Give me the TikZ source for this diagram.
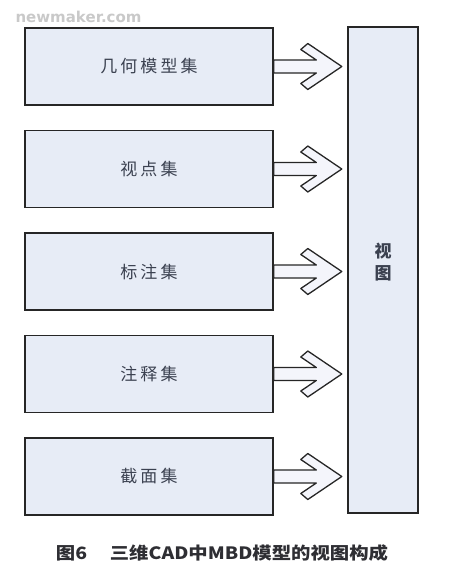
\documentclass[tikz,border=0pt]{standalone}
\usepackage{fontspec}
\setmainfont{Noto Sans CJK SC}
\newfontfamily\cjklabel[LetterSpace=18]{Noto Sans CJK SC}
\newfontfamily\wmfont{DejaVu Sans}
\definecolor{boxfill}{HTML}{E7ECF6}
\definecolor{arrowfill}{HTML}{F4F5FB}
\definecolor{labeltext}{HTML}{3B4150}
\definecolor{captext}{HTML}{2E2E33}
\definecolor{wmgray}{HTML}{C9C9C9}
\begin{document}
\begin{tikzpicture}[x=1pt,y=-1pt,
  setbox/.style={draw=black!85, line width=1.6pt, fill=boxfill, minimum width=248pt, minimum height=77pt, inner sep=0pt, text=labeltext, font=\cjklabel\fontsize{17}{17}\selectfont},
  viewbox/.style={draw=black!85, line width=1.6pt, fill=boxfill, minimum width=70pt, minimum height=486pt, inner sep=0pt},
  blockarrow/.style={draw=black!85, line width=1.3pt, fill=arrowfill, line join=round}]
\useasboundingbox (0,0) rectangle (472,587);
\node[font=\wmfont\bfseries\fontsize{15}{15}\selectfont, text=wmgray, anchor=west] (wm) at (12,17) {newmaker.com};
\node[setbox] (b1) at (149,66.5) {\raisebox{-3pt}{几何模型集}};
\node[setbox] (b2) at (149,169) {\raisebox{-3pt}{视点集}};
\node[setbox] (b3) at (149,271.5) {\raisebox{-3pt}{标注集}};
\node[setbox] (b4) at (149,374) {\raisebox{-3pt}{注释集}};
\node[setbox] (b5) at (149,476.5) {\raisebox{-3pt}{截面集}};
\node[viewbox] (view) at (383,270) {};
\node[text=labeltext, font=\bfseries\fontsize{17}{22}\selectfont, align=center] (vt) at (383,262) {视\\图};
\foreach \i in {1,...,5}{
  \draw[blockarrow, shift={(b\i.east)}] (0,-6.5) -- (42.5,-6.5) -- (27,-17) -- (34,-23) -- (68,0) -- (34,23) -- (27,17) -- (42.5,6.5) -- (0,6.5) -- cycle;
}
\node[text=captext, font=\bfseries\fontsize{17}{17}\selectfont] (cap) at (222,553) {\scalebox{1.14}[1]{图6\hspace{20pt}三维CAD中MBD模型的视图构成}};
\end{tikzpicture}
\end{document}
